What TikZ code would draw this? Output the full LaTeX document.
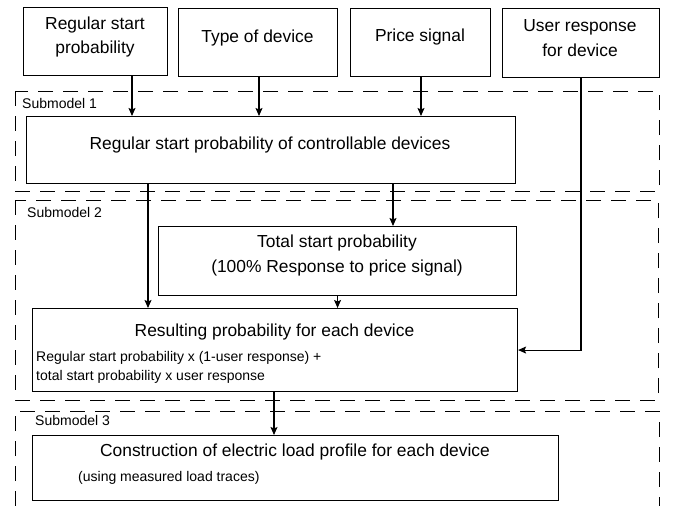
\documentclass[tikz,border=0pt]{standalone}
\usepackage{fontspec}
\setmainfont{Liberation Sans}
\usetikzlibrary{arrows.meta}
\tikzset{
  box/.style={draw, line width=1.1pt, inner sep=0pt, anchor=north west},
  subm/.style={draw, dash pattern=on 15pt off 10pt, line width=1pt},
  big/.style={font=\fontsize{17.4}{24.5}\selectfont, align=center, inner sep=0pt},
  small/.style={font=\fontsize{14}{19}\selectfont, align=left, inner sep=0pt, anchor=west},
  arr/.style={-{Stealth[length=8pt,width=7pt,inset=1.5pt]}, line width=1.1pt},
}
\begin{document}
\begin{tikzpicture}[x=1pt,y=-1pt]
\useasboundingbox (0,0) rectangle (675,506);
% submodel frames
\draw[subm] (15,91) rectangle (659,191);
\draw[subm] (15,200) rectangle (658,400);
\draw[subm] (15,506) -- (15,411) -- (659,411) -- (659,506);
\node[small] (s1) at (22,103) {Submodel 1};
\node[small] (s2) at (27,212) {Submodel 2};
\node[small] (s3) at (35,420) {Submodel 3};
% boxes
\node[box, minimum width=144pt, minimum height=68pt] (A) at (23,7) {};
\node[box, minimum width=159pt, minimum height=68pt] (B) at (178,8) {};
\node[box, minimum width=140pt, minimum height=68pt] (C) at (350,8) {};
\node[box, minimum width=157pt, minimum height=69pt] (D) at (502,8) {};
\node[box, minimum width=489pt, minimum height=67pt] (M1) at (26,116) {};
\node[box, minimum width=358pt, minimum height=69pt] (T) at (158,226) {};
\node[box, minimum width=485pt, minimum height=83pt] (R) at (32,308) {};
\node[box, minimum width=526pt, minimum height=65pt] (K) at (32,435) {};
% texts
\node[big] (tA) at (95,37) {Regular start\\probability};
\node[big] (tB) at (257.5,38) {Type of device};
\node[big] (tC) at (420,37) {Price signal};
\node[big] (tD) at (580,38) {User response\\for device};
\node[big] (tM) at (270,145) {Regular start probability of controllable devices};
\node[big] (tT) at (337,255.5) {Total start probability\\(100\% Response to price signal)};
\node[big] (tR) at (274.5,332) {Resulting probability for each device};
\node[small] (tR2) at (36,367.5) {Regular start probability x (1-user response) +\\total start probability x user response};
\node[big] (tK) at (295,452) {Construction of electric load profile for each device};
\node[small] (tK2) at (78,478) {(using measured load traces)};
% arrow columns
\coordinate (xa) at (132,0);
\coordinate (xb) at (259,0);
\coordinate (xc) at (421,0);
\coordinate (xd) at (581,0);
\coordinate (xe) at (393,0);
\coordinate (xf) at (148,0);
\coordinate (xh) at (274,0);
% arrows
\draw[arr] (A.south -| xa) -- (M1.north -| xa);
\draw[arr] (B.south -| xb) -- (M1.north -| xb);
\draw[arr] (C.south -| xc) -- (M1.north -| xc);
\draw[arr] (M1.south -| xe) -- (T.north -| xe);
\draw[arr] (M1.south -| xf) -- (R.north -| xf);
\draw[arr] (T.south) -- (R.north -| T.south);
\draw[arr] (D.south -| xd) |- (R.east);
\draw[arr] (R.south -| xh) -- (K.north -| xh);
\end{tikzpicture}
\end{document}
